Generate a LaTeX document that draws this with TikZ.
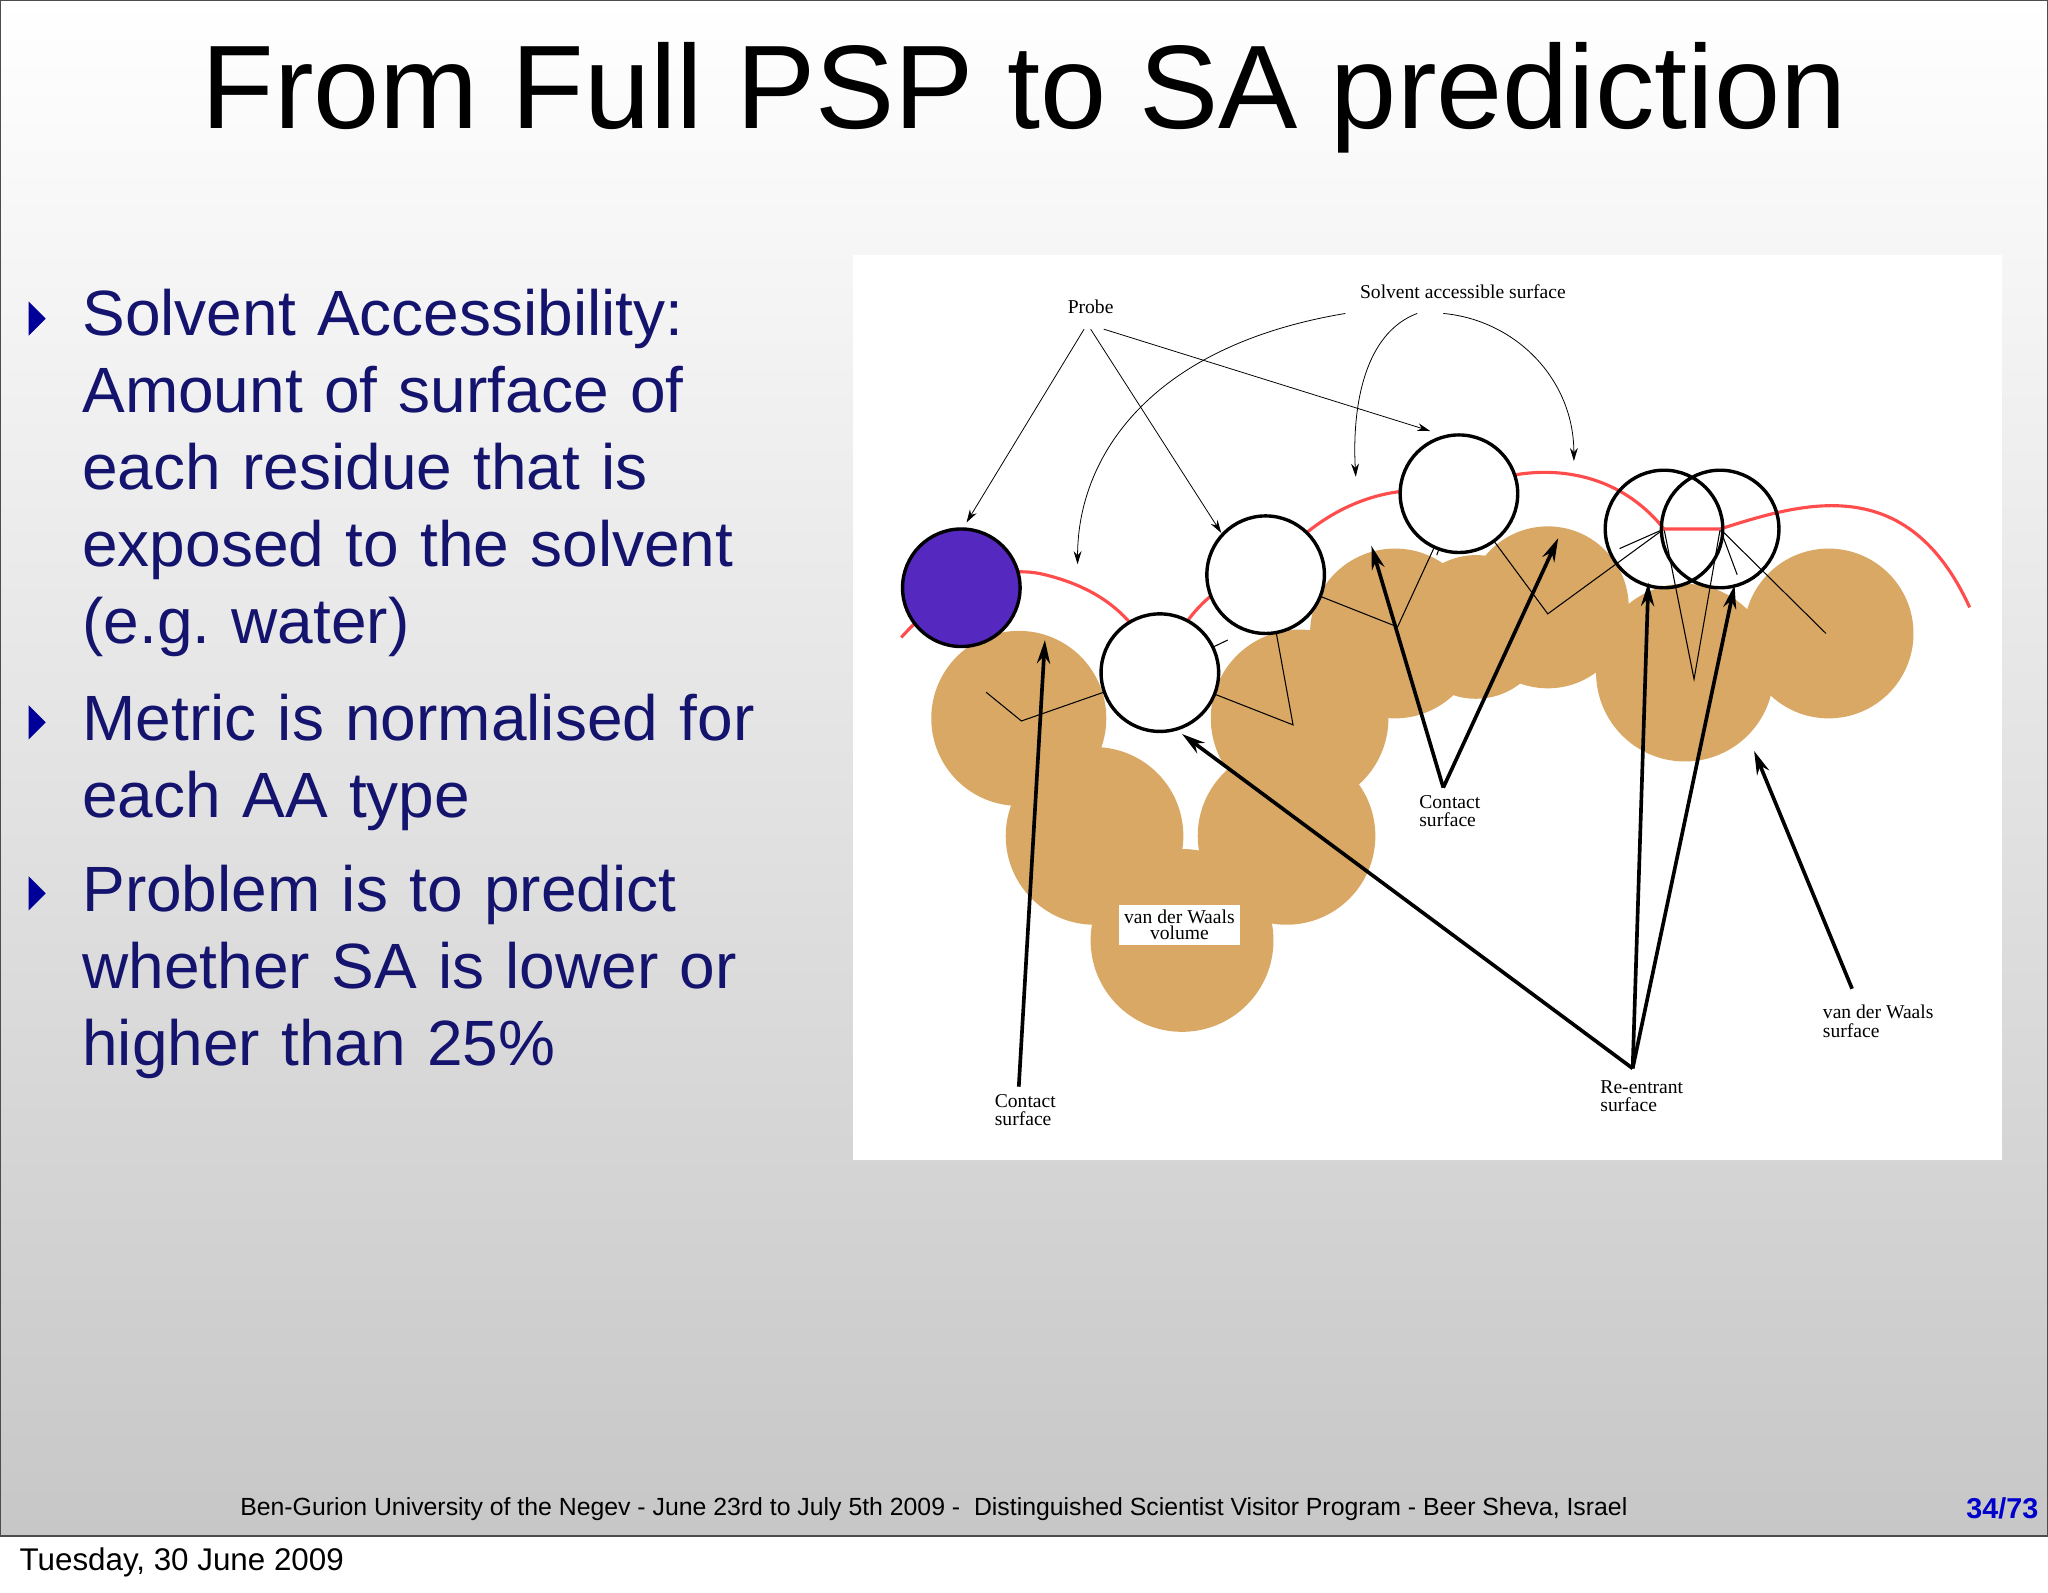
\documentclass[tikz,border=0pt]{standalone}
\usepackage{fontspec}
\setmainfont{Liberation Sans}
\newfontfamily\serifx{Liberation Serif}
\usetikzlibrary{arrows.meta}
\definecolor{tan}{HTML}{D9A865}
\definecolor{navy}{HTML}{14146E}
\begin{document}
\begin{tikzpicture}[x=0.5pt,y=-0.5pt,
 atom/.style={fill=tan,draw=none},
 probec/.style={draw=black,line width=1.3pt,fill=white},
 lbl/.style={font=\serifx\fontsize{7.5}{7}\selectfont,align=left},
 thin/.style={draw=black,line width=0.3pt,-{Stealth[length=5pt,width=3pt]}},
 thick/.style={draw=black,line width=1.4pt,-{Stealth[length=9pt,width=5pt]}},
 bul/.style={font=\fontsize{24.5}{29.5}\selectfont,text=navy,align=left,anchor=north west,text width=285pt}]
\useasboundingbox (0,0) rectangle (1568,1219);
\fill[white] (0,0) rectangle (1568,1219);
\shade[top color=white,bottom color=black!22] (0,0) rectangle (1568,1176);
\draw[black!70,line width=0.6pt] (0.5,0.5) rectangle (1567.5,1176);
\node (title) at (784,75) {\fontsize{45.5}{50}\selectfont From Full PSP to SA prediction};
% bullets
\foreach \y in {244,553,684}{\fill[blue!60!black] (22,\y-13) -- (35,\y) -- (22,\y+13) -- cycle;}
\node[bul] (b1) at (56,214) {Solvent Accessibility:\\ Amount of surface of\\ each residue that is\\ exposed to the solvent\\ (e.g.~water)};
\node[bul] (b2) at (56,524) {Metric is normalised for\\ each AA type};
\node[bul] (b3) at (56,655) {Problem is to predict\\ whether SA is lower or\\ higher than 25\%};
% footer
\node (foot) at (715,1155) {\fontsize{9.5}{10}\selectfont Ben-Gurion University of the Negev - June 23rd to July 5th 2009 -\ \ Distinguished Scientist Visitor Program - Beer Sheva, Israel};
\node[text=blue!80!black] (pg) at (1533,1155) {\fontsize{11}{12}\selectfont\bfseries 34/73};
\node[anchor=west] (date) at (8,1196) {\fontsize{12}{13}\selectfont Tuesday, 30 June 2009};
% panel
\fill[white] (653,195) rectangle (1533,888);
\foreach \x/\y/\r in {780/550/67,838/640/68,905/720/70,985/640/68,995/550/68,1068/485/65,1130/480/55,1185/465/62,1290/515/68,1400/485/65}{\fill[atom] (\x,\y) circle (\r);}
% thin inner lines
\draw[line width=0.4pt] (755,530) -- (782,552) -- (888,515) -- (990,555) -- (969,440) -- (1070,480) -- (1117,378) -- (1185,470) -- (1274,405) -- (1297,520) -- (1317,405) -- (1398,485);
\draw[line width=0.4pt] (888,515) -- (940,490) (1117,378) -- (1100,425) (1274,405) -- (1240,420) (1317,405) -- (1330,440);
% red SAS
\draw[red!70,line width=1.2pt] (690,488) .. controls (720,455) and (760,430) .. (800,440) .. controls (840,450) and (870,470) .. (888,515)
 .. controls (905,470) and (935,440) .. (969,440) .. controls (1000,400) and (1050,365) .. (1117,378)
 .. controls (1160,355) and (1230,350) .. (1274,405) -- (1317,405) .. controls (1380,385) and (1460,360) .. (1508,465);
% probes
\fill[fill={rgb,255:red,85;green,40;blue,192},draw=black,line width=1.3pt] (736,450) circle (45);
\foreach \x/\y in {888/515,969/440,1117/378}{\draw[probec] (\x,\y) circle (45);}
\draw[black,line width=1.3pt] (1274,405) circle (45) (1317,405) circle (45);
\node[fill=white,inner sep=2pt,lbl,align=center] (vdwv) at (903,708) {van der Waals\\[-1pt]volume};
% labels
\node[lbl] (probe) at (835,235) {Probe};
\node[lbl] (sas) at (1120,223) {Solvent accessible surface};
\node[lbl] (cs1) at (1110,621) {Contact\\surface};
\node[lbl] (vdws) at (1438,782) {van der Waals\\surface};
\node[lbl] (re) at (1257,839) {Re-entrant\\surface};
\node[lbl] (cs2) at (785,850) {Contact\\surface};
\coordinate (p1) at (740,400); \coordinate (p2) at (935,408); \coordinate (p3) at (1095,330);
\draw[thin] (830,252) -- (p1); \draw[thin] (835,252) -- (p2); \draw[thin] (845,252) -- (p3);
\coordinate (s1) at (825,432); \coordinate (s2) at (1038,365); \coordinate (s3) at (1205,353);
\draw[thin] (1030,240) .. controls (880,265) and (825,350) .. (s1);
\draw[thin] (1085,240) .. controls (1045,255) and (1035,310) .. (s2);
\draw[thin] (1105,240) .. controls (1160,245) and (1205,290) .. (s3);
\coordinate (c1) at (1050,418); \coordinate (c2) at (1193,412); \coordinate (c3) at (800,490);
\draw[thick] (1105,603) -- (c1); \draw[thick] (1105,603) -- (c2); \draw[thick] (780,832) -- (c3);
\coordinate (r1) at (905,562); \coordinate (r2) at (1262,446); \coordinate (r3) at (1328,448); \coordinate (v1) at (1343,575);
\draw[thick] (1250,818) -- (r1); \draw[thick] (1250,818) -- (r2); \draw[thick] (1250,818) -- (r3); \draw[thick] (1418,757) -- (v1);
\end{tikzpicture}
\end{document}
